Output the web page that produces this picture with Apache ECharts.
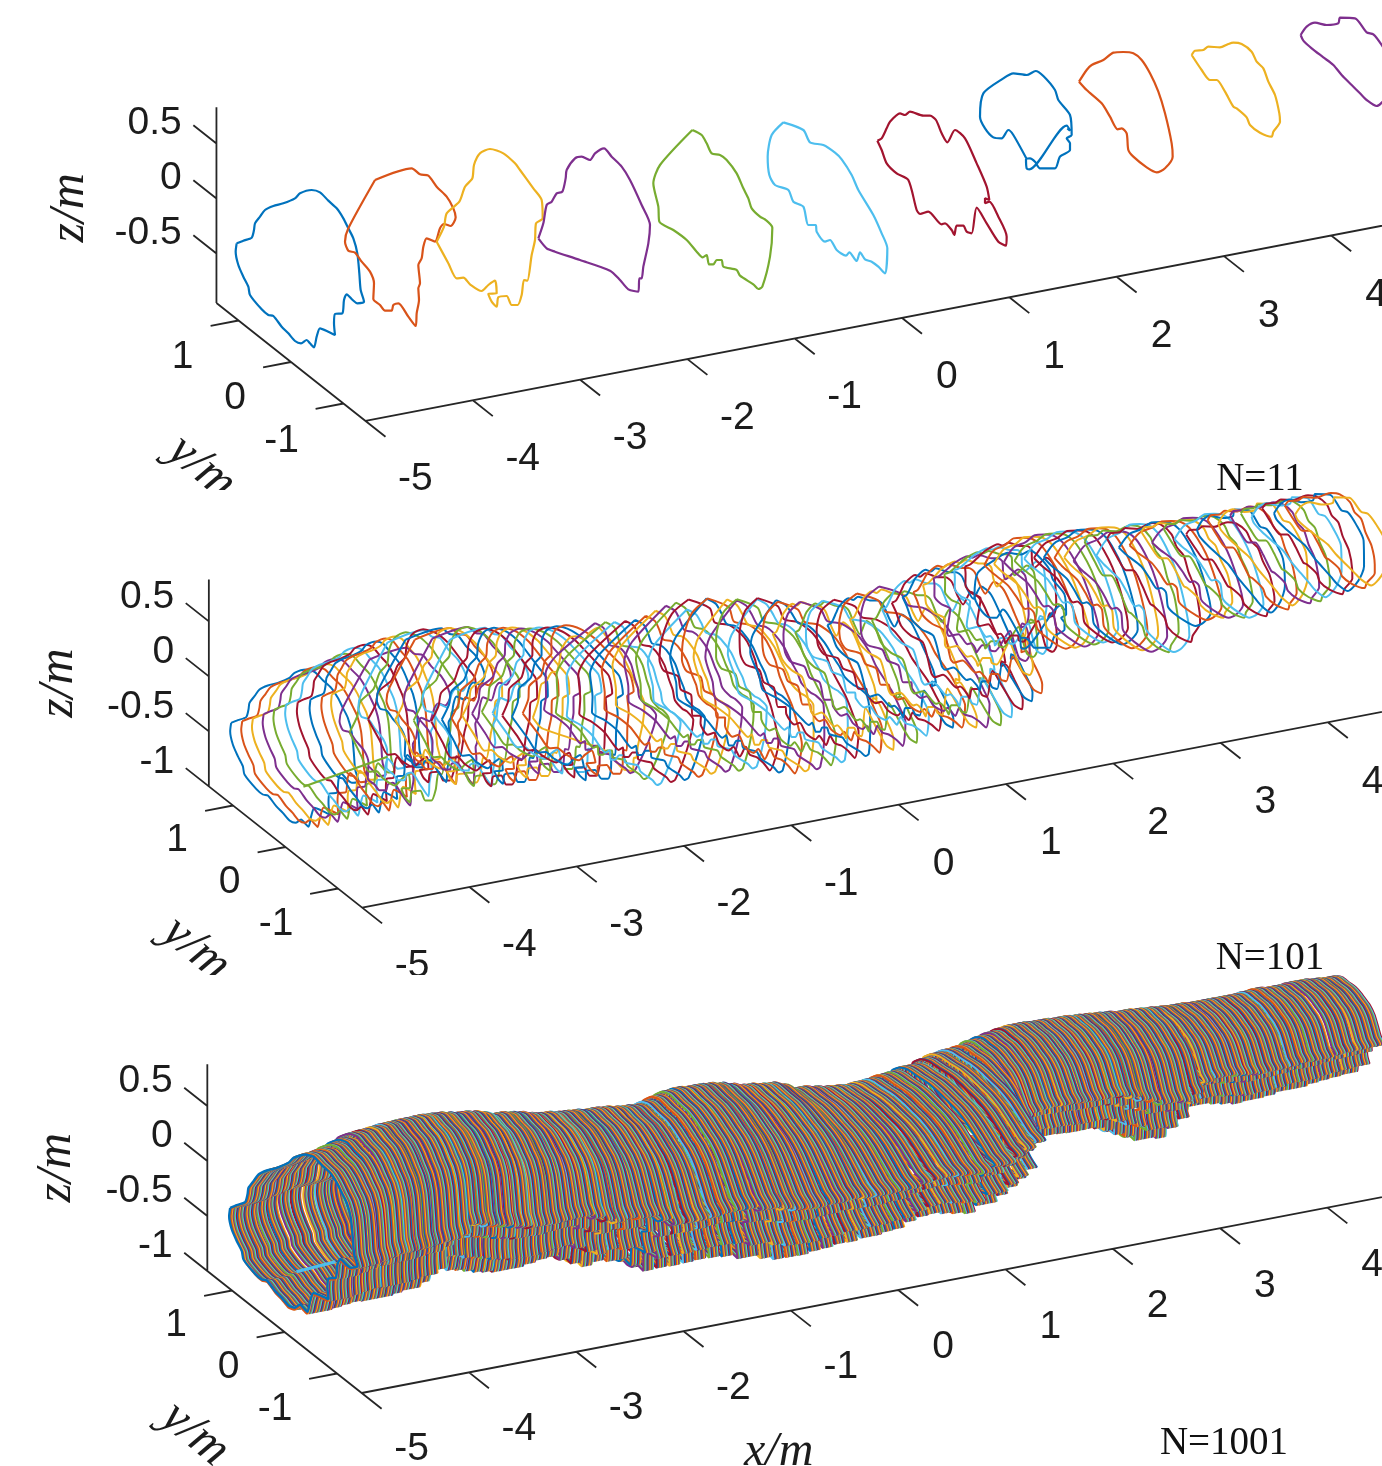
<!DOCTYPE html>
<html><head><meta charset="utf-8">
<style>html,body{margin:0;padding:0;background:#fff}#c{width:1382px;height:1466px;filter:blur(0.45px)}</style>
<script src="https://cdn.jsdelivr.net/npm/echarts@6/dist/echarts.min.js"></script>
</head><body><div id="c"></div>
<script>
// Readings of the eleven cross-sections (1/3 px reading grid, relative to each crop)
const loop1=[50,310,70,302,95,293,102,270,105,250,120,230,135,210,160,198,190,190,225,175,240,160,275,150,300,157,325,182,350,205,370,235,385,265,400,295,412,340,418,400,422,450,432,485,412,490,398,480,380,463,372,480,367,520,345,522,342,550,345,585,325,575,300,565,290,590,282,622,270,610,260,600,243,610,225,603,205,580,185,560,160,528,145,525,125,508,90,465,85,440,70,410,55,375,47,335,50,310];
const loop2=[465,120,575,85,600,103,625,107,650,140,680,170,700,205,707,232,692,258,672,252,660,265,645,305,620,295,610,320,605,355,595,375,600,430,595,445,597,480,590,520,587,558,565,530,535,490,520,495,515,512,495,512,480,495,460,477,462,430,450,395,425,365,405,338,385,332,375,305,385,265,465,120];
const loop3=[650,305,685,370,710,415,730,413,750,433,785,453,805,435,825,422,830,460,805,462,815,485,830,500,835,472,860,468,875,495,893,495,905,465,912,420,922,422,935,345,945,300,948,250,968,235,965,180,940,145,900,90,885,70,850,40,810,27,780,40,762,75,757,115,735,140,718,185,680,220,672,260,650,305];
const loop4=[25,415,40,370,50,315,65,305,80,280,97,275,107,235,110,210,135,175,155,170,180,180,195,160,222,145,245,170,275,200,300,240,335,315,360,375,355,430,340,500,335,535,328,535,325,575,295,568,270,540,240,512,150,480,75,455,50,445,25,415];
const loop5=[487,90,515,105,530,130,545,160,570,165,590,180,620,220,640,265,655,295,665,325,690,350,705,358,727,383,720,470,697,560,685,567,670,553,630,527,620,510,580,500,575,480,560,480,550,493,537,493,530,465,518,472,500,455,470,420,430,390,388,365,385,320,370,250,390,195,487,90];
const loop6=[760,67,820,90,840,127,880,135,915,158,935,178,965,225,985,270,1030,345,1055,400,1072,445,1065,520,1045,500,1025,485,1005,478,990,457,980,483,958,457,948,467,920,450,900,420,885,425,860,395,857,375,835,375,820,320,790,305,775,270,735,255,718,225,713,170,725,105,760,67];
const loop7=[22,242,35,235,50,205,60,185,90,160,105,165,120,155,160,167,180,167,198,180,215,220,232,247,255,210,285,235,320,310,350,380,358,420,345,415,345,430,358,425,385,470,410,530,408,557,385,545,350,490,320,443,305,520,290,515,280,497,260,497,253,525,245,510,225,490,215,493,175,455,150,462,140,450,115,360,80,340,50,310,35,270,22,242];
const loop8=[470,297,430,225,415,210,395,235,370,232,345,205,330,170,340,100,400,55,430,40,470,45,497,33,520,48,555,90,565,120,600,165,605,225,590,235,600,250,600,270,570,290,555,325,510,325,495,305,480,295,468,298,470,325,478,328,590,197,600,212,592,205];
const loop9=[627,65,650,30,665,15,700,0,730,-22,760,-24,790,-20,815,0,840,40,865,95,885,160,905,250,908,290,885,325,860,337,830,322,790,290,775,270,770,220,755,205,743,208,720,170,695,130,650,90,627,65];
const loop10=[65,165,75,152,100,150,115,140,150,142,175,132,190,128,215,132,245,155,260,185,280,205,295,245,315,285,328,340,330,365,310,395,305,410,270,398,240,375,230,352,200,325,190,320,165,275,140,240,120,240,95,210,65,165];
const loop11=[392,105,410,80,435,68,470,75,505,70,510,53,555,55,590,97,610,103,635,135,660,180,665,250,650,290,620,318,590,300,570,280,545,255,515,225,490,195,460,172,425,145,400,122,392,105];
const loopCrops=[[220,140],[220,140],[220,140],[530,100],[530,100],[530,100],[870,60],[870,60],[870,60],[1170,0],[1170,0]];
// Per-station estimates (0.1 m stations), read off the N=101 / N=1001 panels
const crownRead=[-67,-68,-69,-72,-75,-79,-80,-81,-82,-82,-69,-82,-82,-81,-80,-78,-76,-75,-73,-70,-67,-66,-64,-62,-59,-57,-56,-54,-53,-52,-48,-50,-49,-47,-46,-45,-47,-50,-53,-54,-45,-53,-52,-50,-47,-44,-43,-41,-40,-36,-32,-30,-28,-26,-25,-24,-25,-26,-28,-29,-22,-32,-36,-39,-41,-43,-46,-48,-50,-52,-42,-53,-52,-52,-51,-51,-50,-49,-48,-47,-41,-45,-44,-43,-42,-41,-41,-40,-40,-40,-29,-40,-41,-42,-41,-41,-42,-42,-41,-40,-34];
const invertRead=[90,92,92,91,90,89,90,90,90,89,89,88,84,72,74,78,80,83,86,88,91,90,90,88,86,85,90,96,101,98,96,100,108,116,115,115,114,113,113,114,114,118,122,125,125,125,123,122,120,120,119,118,116,115,110,107,106,108,110,112,112,106,100,94,88,72,60,58,57,57,57,58,59,60,60,60,62,66,72,76,80,82,84,76,62,58,58,60,62,64,65,63,62,60,60,60,58,57,56,55,55];
const leftRead=[-55,-55,-55,-55,-55,-54,-53,-51,-50,-51,-53,-54,-56,-57,-59,-60,-62,-64,-65,-67,-69,-69,-70,-70,-71,-72,-72,-73,-74,-74,-75,-74,-73,-73,-72,-71,-70,-70,-69,-68,-67,-66,-66,-65,-64,-63,-63,-62,-61,-61,-60,-60,-60,-59,-59,-59,-59,-58,-58,-58,-58,-58,-59,-59,-59,-60,-60,-60,-61,-61,-62,-63,-64,-65,-65,-66,-67,-68,-68,-69,-70,-70,-69,-69,-68,-68,-67,-67,-66,-66,-65,-65,-65,-65,-64,-64,-64,-64,-63,-63,-63];
const rightRead=[73,71,70,68,66,65,63,62,60,58,57,55,53,51,49,47,45,43,41,39,37,37,37,37,37,37,37,37,37,37,37,38,40,41,43,44,46,47,49,50,52,53,54,55,56,56,57,58,58,59,60,61,62,63,64,66,67,68,69,71,72,72,72,71,70,50,36,33,32,31,30,32,31,30,29,28,27,26,25,25,24,24,24,24,24,24,24,24,23,23,23,23,24,24,25,25,26,26,27,27,28];
const leanRead=[1,1,2,2,2,3,3,3,4,4,4,4,5,5,5,6,6,6,7,7,7,9,11,14,17,19,22,25,27,29,32,35,38,42,45,49,52,55,59,63,66,70,73,77,80,84,87,90,94,98,101,101,100,100,100,99,99,98,97,97,96,96,95,95,90,60,45,44,44,44,44,46,44,42,40,38,36,35,35,34,34,35,35,36,36,37,37,38,38,39,39,38,37,36,35,34,33,32,32,31,30];
const chordMid=[[-25,58],[59,28]];
const chordLow=[[-31,58],[8,48]];
const xTicks=[-5,-4,-3,-2,-1,0,1,2,3,4];
const yTicks=[-1,0,1];
const zTicksTop=[0.5,0,-0.5];
const zTicksLow=[0.5,0,-0.5,-1];
const palette=['#0072BD','#D95319','#EDB120','#7E2F8E','#77AC30','#4DBEEE','#A2142F'];
const panelTitles=['N=11','N=101','N=1001'];

const loops=[loop1,loop2,loop3,loop4,loop5,loop6,loop7,loop8,loop9,loop10,loop11];
const axU=107.3,axV=-20.6,ayU=-52.5,ayV=-41.5,azV=-110;
const panels=[
 {o:[291,257.5],yMin:-1.42,yMax:1.42,zMin:-0.95,zMax:0.83,zt:zTicksTop,zl:0,yl:0,xl:0},
 {o:[285.5,737],yMin:-1.46,yMax:1.46,zMin:-1,zMax:0.88,zt:zTicksLow,zl:0.03,yl:0.015,xl:0},
 {o:[284.5,1222],yMin:-1.47,yMax:1.47,zMin:-1,zMax:0.88,zt:zTicksLow,zl:0.035,yl:0.015,xl:0.018}
];
function proj(p,x,y,z){return [p.o[0]+axU*(x+5)+ayU*y, p.o[1]+axV*(x+5)+ayV*y+azV*z];}
const relLoops=loops.map((a,i)=>{const s=proj(panels[0],-5+i,0,0),c=loopCrops[i],r=[];
  for(let n=0;n<a.length;n+=2)r.push([c[0]+a[n]/3-s[0],c[1]+a[n+1]/3-s[1]]);return r;});
function fitted(i,k){
  const L=relLoops[i];let ti=0,bi=0;
  L.forEach((q,n)=>{if(q[1]<L[ti][1])ti=n;if(q[1]>L[bi][1])bi=n;});
  const t=L[ti][1],b=L[bi][1],cr=crownRead[k],inv=invertRead[k];
  const shear=(leanRead[k]-(L[bi][0]-L[ti][0]))/(inv-cr);
  const pts=L.map(q=>{const v=cr+(q[1]-t)/(b-t)*(inv-cr);return [q[0]+shear*(v-cr),v];});
  const us=pts.map(q=>q[0]),lo=Math.min(...us),hi=Math.max(...us);
  return pts.map(q=>[leftRead[k]+(q[0]-lo)/(hi-lo)*(rightRead[k]-leftRead[k]),q[1]]);
}
function templateFor(i,k){
  if(i===3)return k<30?2:4;
  if(i===7)return k<70?6:8;
  return i;
}
function shapeMid(k){
  if(k%10===0)return relLoops[k/10];
  if(k<10)return fitted(0,k);
  const lo=Math.floor(k/10),hi=lo+1,near=Math.round(k/10);
  const i=(k%2===0)?near:(near===lo?hi:lo);
  return fitted(templateFor(i,k),k);
}
function shapeLow(j){
  if(j===0)return relLoops[0];
  let k=Math.round(j/10);
  if(k%10===0)k=k<100?k+1:k-1;
  return fitted(0,k);
}
function loopSeries(panel,x,pts,color,width,smooth){
  const s=proj(panel,x,0,0);
  return {type:'line',silent:true,showSymbol:false,symbol:'none',animation:false,color:color,smooth:smooth,
    lineStyle:{width:width,color:color},data:pts.map(q=>[s[0]+q[0],s[1]+q[1]])};
}
const series=[];
panels.forEach(p=>{
  const seg=[],brk=[null,null];
  const add=(a,b)=>{seg.push(a,b,brk);};
  add(proj(p,-5,p.yMin,p.zMin),proj(p,5.5,p.yMin,p.zMin));
  add(proj(p,-5,p.yMin,p.zMin),proj(p,-5,p.yMax,p.zMin));
  add(proj(p,-5,p.yMax,p.zMin),proj(p,-5,p.yMax,p.zMax));
  xTicks.forEach(x=>add(proj(p,x,p.yMin,p.zMin),proj(p,x,p.yMin-0.38,p.zMin)));
  yTicks.forEach(y=>add(proj(p,-5,y,p.zMin),proj(p,-5.26,y,p.zMin)));
  p.zt.forEach(z=>add(proj(p,-5,p.yMax,z),proj(p,-5,p.yMax+0.44,z)));
  series.push({type:'line',silent:true,showSymbol:false,animation:false,connectNulls:false,
    lineStyle:{color:'#262626',width:1.8},data:seg});
});
for(let i=0;i<=10;i++)series.push(loopSeries(panels[0],-5+i,relLoops[i],palette[i%7],2.2,0.25));
for(let k=0;k<=100;k++)series.push(loopSeries(panels[1],-5+k/10,shapeMid(k),palette[k%7],2,0.25));
series.push(loopSeries(panels[1],-4.6,chordMid,palette[4],2,0));
for(let j=1000;j>=0;j--)series.push(loopSeries(panels[2],-5+j/100,shapeLow(j),palette[j%7],j===0?2.4:2,0.2));
series.push(loopSeries(panels[2],-4.6,chordLow,palette[5],3,0));
function texts(items,font){
  return {type:'scatter',silent:true,symbolSize:0,animation:false,z:5,itemStyle:{opacity:1},
    data:items.map(t=>({value:t[0],name:t[1]})),
    label:Object.assign({show:true,opacity:1,formatter:'{b}',position:'inside',color:'#1c1c1c',verticalAlign:'middle'},font)};
}
const tickFont={fontFamily:'Liberation Sans',fontSize:39,align:'center'};
const titleAt=[[1260,480],[1270,959],[1224,1444]];
panels.forEach((p,pi)=>{
  series.push(texts(xTicks.map(x=>[proj(p,x-(x>=0?0.047:0),p.yMin-0.95,p.zMin-0.175+p.xl),String(x)]),tickFont));
  series.push(texts(yTicks.map(y=>[proj(p,y>=0?-5.52:-5.576,y,p.zMin-0.235+p.yl),String(y)]),tickFont));
  series.push(texts(p.zt.map(z=>[proj(p,-5,p.yMax+0.66,z-0.06+p.zl),String(z)]),Object.assign({},tickFont,{align:'right'})));
  const lab={fontFamily:'Liberation Serif',fontStyle:'italic',fontSize:50,align:'center'};
  series.push(texts([[proj(p,-5,p.yMax+(pi?2.86:2.8),-1.14),'z/m']],Object.assign({},lab,{rotate:90})));
  series.push(texts([[proj(p,-5.786,0.1,p.zMin-0.85+(pi?0.03:0)),'y/m']],Object.assign({},lab,{rotate:-40})));
  series.push(texts([[titleAt[pi],panelTitles[pi]]],{fontFamily:'Liberation Serif',fontSize:39,align:'center',color:'#111'}));
});
series.push(texts([[proj(panels[2],-1.97,panels[2].yMin-1.75,-1.45),'x/m']],{fontFamily:'Liberation Serif',fontStyle:'italic',fontSize:48,align:'center'}));

const chart=echarts.init(document.getElementById('c'),null,{renderer:'canvas'});
chart.setOption({
  animation:false,backgroundColor:'#fff',
  grid:{left:0,top:0,width:1382,height:1466,containLabel:false},
  xAxis:{type:'value',min:0,max:1382,show:false},
  yAxis:{type:'value',min:0,max:1466,inverse:true,show:false},
  tooltip:{show:false},legend:{show:false},
  graphic:[
    {type:'rect',z:100,shape:{x:130,y:490,width:120,height:25},style:{fill:'#fff'}},
    {type:'rect',z:100,shape:{x:130,y:975,width:320,height:25},style:{fill:'#fff'}}
  ],
  series:series
});
</script></body></html>
